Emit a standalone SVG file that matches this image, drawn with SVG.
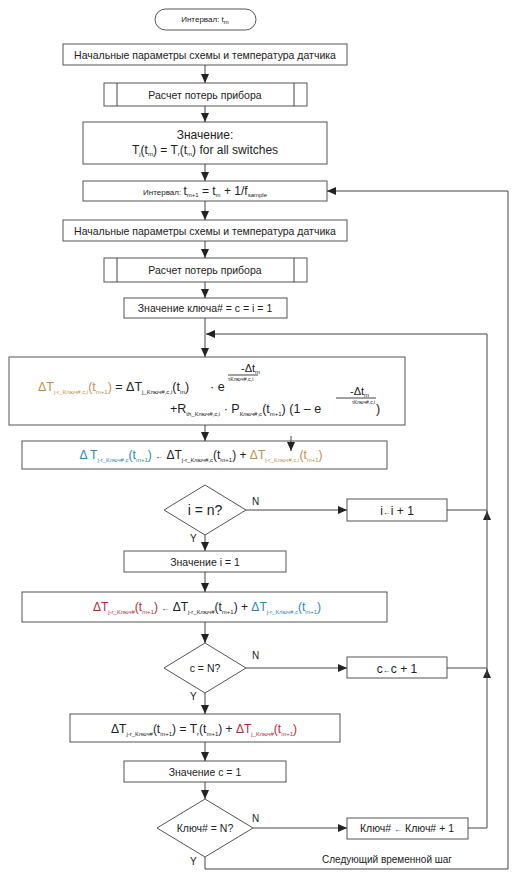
<svg xmlns="http://www.w3.org/2000/svg" width="514" height="880" viewBox="0 0 514 880">
<defs>
<marker id="ah" markerUnits="userSpaceOnUse" markerWidth="9" markerHeight="8" refX="9" refY="4" orient="auto"><path d="M0,0 L9,4 L0,8 z" fill="#222"/></marker>
<style>
.n{fill:#fff;stroke:#555;stroke-width:1}
.c{fill:none;stroke:#444;stroke-width:1}
text{font-family:"Liberation Sans",Arial,sans-serif;fill:#222}
.t{font-size:10.5px;text-anchor:middle}
.s{font-size:6px}
.g{fill:#c4914a}
.b{fill:#2a86bd}
.r{fill:#b8283a}
</style>
</defs>
<rect width="514" height="880" fill="#fff"/>
<g id="start">
<rect class="n" x="155" y="9" width="101" height="21" rx="10.5"/>
<text class="t" x="205" y="22" style="font-size:8px">Интервал: t<tspan class="s" dy="2">m</tspan></text>
</g>
<g id="init1">
<rect class="n" x="63" y="44" width="284" height="21"/>
<text class="t" x="205" y="58.5">Начальные параметры схемы и температура датчика</text>
</g>
<g id="loss1">
<rect class="n" x="104" y="83" width="203" height="23"/>
<path class="c" d="M117,83V106M294,83V106"/>
<text class="t" x="205" y="98.5">Расчет потерь прибора</text>
</g>
<g id="assign">
<rect class="n" x="83" y="122" width="244" height="42"/>
<text class="t" x="205" y="139" style="font-size:12px">Значение:</text>
<text class="t" x="205" y="154" style="font-size:12px">T<tspan class="s" dy="2">j</tspan><tspan dy="-2">(t</tspan><tspan class="s" dy="2">m</tspan><tspan dy="-2">) = T</tspan><tspan class="s" dy="2">r</tspan><tspan dy="-2">(t</tspan><tspan class="s" dy="2">m</tspan><tspan dy="-2">) for all switches</tspan></text>
</g>
<g id="interval">
<rect class="n" x="83" y="181" width="244" height="20"/>
<text class="t" x="205" y="195" style="font-size:12px"><tspan style="font-size:8px">Интервал: </tspan>t<tspan class="s" dy="2">m+1</tspan><tspan dy="-2"> = t</tspan><tspan class="s" dy="2">m</tspan><tspan dy="-2"> + 1/f</tspan><tspan class="s" dy="2">sample</tspan></text>
</g>
<g id="init2">
<rect class="n" x="63" y="220" width="284" height="21"/>
<text class="t" x="205" y="234.5">Начальные параметры схемы и температура датчика</text>
</g>
<g id="loss2">
<rect class="n" x="104" y="258" width="203" height="24"/>
<path class="c" d="M117,258V282M294,258V282"/>
<text class="t" x="205" y="274">Расчет потерь прибора</text>
</g>
<g id="keyinit">
<rect class="n" x="124" y="298" width="163" height="20"/>
<text class="t" x="205" y="312">Значение ключа# = c = i = 1</text>
</g>
<g id="formula">
<rect class="n" x="9" y="357" width="396" height="68"/>
<text x="38" y="391" style="font-size:12.5px"><tspan class="g">ΔT</tspan><tspan class="s g" dy="2.5">j-r_Ключ#,c,i</tspan><tspan class="g" dy="-2.5">(t</tspan><tspan class="s g" dy="2.5">m+1</tspan><tspan class="g" dy="-2.5">)</tspan> = ΔT<tspan class="s" dy="2.5">j_Ключ#,c,i</tspan><tspan dy="-2.5">(t</tspan><tspan class="s" dy="2.5">m</tspan><tspan dy="-2.5">)</tspan></text>
<text x="210" y="391" style="font-size:12.5px">· e</text>
<text x="228" y="381" style="font-size:5.5px">τКлюч#,c,i</text>
<path class="c" d="M228,375H258"/>
<text x="241" y="372" style="font-size:11px">-Δt<tspan class="s" dy="2">m</tspan></text>
<text x="170" y="413" style="font-size:12.5px">+R<tspan class="s" dy="2.5">th_Ключ#,c,i</tspan><tspan dy="-2.5"> · P</tspan><tspan class="s" dy="2.5">Ключ#,c</tspan><tspan dy="-2.5">(t</tspan><tspan class="s" dy="2.5">m+1</tspan><tspan dy="-2.5">)  (1 – e</tspan></text>
<text x="352" y="404" style="font-size:5px">τКлюч#,c,i</text>
<text x="376" y="413" style="font-size:12.5px">)</text>
<path class="c" d="M336,398H376"/>
<text x="350" y="395" style="font-size:11px">-Δt<tspan class="s" dy="2">m</tspan></text>
</g>
<g id="accum-c">
<rect class="n" x="22" y="441" width="365" height="28"/>
<text class="t" x="201" y="459" style="font-size:12px"><tspan class="b">Δ T</tspan><tspan class="s b" dy="2.5">j-r_Ключ#,c</tspan><tspan class="b" dy="-2.5">(t</tspan><tspan class="s b" dy="2.5">m+1</tspan><tspan class="b" dy="-2.5">)</tspan> <tspan style="font-size:8px">←</tspan> ΔT<tspan class="s" dy="2.5">j-r_Ключ#,c</tspan><tspan dy="-2.5">(t</tspan><tspan class="s" dy="2.5">m+1</tspan><tspan dy="-2.5">) +  </tspan><tspan class="g">ΔT</tspan><tspan class="s g" dy="2.5">j-r_Ключ#,c,i</tspan><tspan class="g" dy="-2.5">(t</tspan><tspan class="s g" dy="2.5">m+1</tspan><tspan class="g" dy="-2.5">)</tspan></text>
</g>
<g id="dec-i">
<polygon class="n" points="205,485 246,510 205,535 164,510"/>
<text class="t" x="205" y="515" style="font-size:14px">i = n?</text>
</g>
<g id="inc-i">
<rect class="n" x="347" y="499" width="100" height="22"/>
<text class="t" x="397" y="515" style="font-size:12px">i<tspan style="font-size:8px">←</tspan>i + 1</text>
</g>
<g id="reset-i">
<rect class="n" x="124" y="551" width="162" height="21"/>
<text class="t" x="205" y="565.5">Значение i = 1</text>
</g>
<g id="accum-key">
<rect class="n" x="22" y="592" width="365" height="30"/>
<text class="t" x="207" y="611" style="font-size:12px"><tspan class="r">ΔT</tspan><tspan class="s r" dy="2.5">j-r_Ключ#</tspan><tspan class="r" dy="-2.5">(t</tspan><tspan class="s r" dy="2.5">m+1</tspan><tspan class="r" dy="-2.5">)</tspan> <tspan style="font-size:8px">←</tspan> ΔT<tspan class="s" dy="2.5">j-r_Ключ#</tspan><tspan dy="-2.5">(t</tspan><tspan class="s" dy="2.5">m+1</tspan><tspan dy="-2.5">) +  </tspan><tspan class="b">ΔT</tspan><tspan class="s b" dy="2.5">j-r_Ключ#,c</tspan><tspan class="b" dy="-2.5">(t</tspan><tspan class="s b" dy="2.5">m+1</tspan><tspan class="b" dy="-2.5">)</tspan></text>
</g>
<g id="dec-c">
<polygon class="n" points="205,643 246,668 205,693 164,668"/>
<text class="t" x="205" y="672">c = N?</text>
</g>
<g id="inc-c">
<rect class="n" x="347" y="657" width="100" height="21"/>
<text class="t" x="397" y="672.5" style="font-size:12px">c<tspan style="font-size:8px">←</tspan>c + 1</text>
</g>
<g id="total">
<rect class="n" x="70" y="714" width="270" height="28"/>
<text class="t" x="204" y="733" style="font-size:12px">ΔT<tspan class="s" dy="2.5">j-r_Ключ#</tspan><tspan dy="-2.5">(t</tspan><tspan class="s" dy="2.5">m+1</tspan><tspan dy="-2.5">) = T</tspan><tspan class="s" dy="2.5">r</tspan><tspan dy="-2.5">(t</tspan><tspan class="s" dy="2.5">m+1</tspan><tspan dy="-2.5">) +  </tspan><tspan class="r">ΔT</tspan><tspan class="s r" dy="2.5">j_Ключ#</tspan><tspan class="r" dy="-2.5">(t</tspan><tspan class="s r" dy="2.5">m+1</tspan><tspan class="r" dy="-2.5">)</tspan></text>
</g>
<g id="reset-c">
<rect class="n" x="124" y="761" width="162" height="21"/>
<text class="t" x="205" y="775.5">Значение c = 1</text>
</g>
<g id="dec-key">
<polygon class="n" points="205,799 253,828 205,857 157,828"/>
<text class="t" x="205" y="832">Ключ# = N?</text>
</g>
<g id="inc-key">
<rect class="n" x="347" y="818" width="121" height="21"/>
<text class="t" x="407" y="832">Ключ# <tspan style="font-size:8px">←</tspan> Ключ# + 1</text>
</g>
<g id="connectors">
<path class="c" d="M205,65V83" marker-end="url(#ah)"/>
<path class="c" d="M205,106V122" marker-end="url(#ah)"/>
<path class="c" d="M205,164V181" marker-end="url(#ah)"/>
<path class="c" d="M205,201V220" marker-end="url(#ah)"/>
<path class="c" d="M205,241V258" marker-end="url(#ah)"/>
<path class="c" d="M205,282V298" marker-end="url(#ah)"/>
<path class="c" d="M205,318V357" marker-end="url(#ah)"/>
<path class="c" d="M487,334H206" marker-end="url(#ah)"/>
<path class="c" d="M205,425V441" marker-end="url(#ah)"/>
<path class="c" d="M291,436V451" marker-end="url(#ah)"/>
<path class="c" d="M246,510H347" marker-end="url(#ah)"/>
<path class="c" d="M447,510H487"/>
<path class="c" d="M487,519V511" marker-end="url(#ah)"/>
<path class="c" d="M205,535V551" marker-end="url(#ah)"/>
<path class="c" d="M205,572V592" marker-end="url(#ah)"/>
<path class="c" d="M205,622V643" marker-end="url(#ah)"/>
<path class="c" d="M246,668H347" marker-end="url(#ah)"/>
<path class="c" d="M447,668H487"/>
<path class="c" d="M487,677V669" marker-end="url(#ah)"/>
<path class="c" d="M205,693V714" marker-end="url(#ah)"/>
<path class="c" d="M205,742V761" marker-end="url(#ah)"/>
<path class="c" d="M205,782V799" marker-end="url(#ah)"/>
<path class="c" d="M253,828H347" marker-end="url(#ah)"/>
<path class="c" d="M468,828H487V334"/>
<path class="c" d="M205,857V869H508V191H327" marker-end="url(#ah)"/>
<text x="252" y="505" style="font-size:10px">N</text>
<text x="190" y="542" style="font-size:10px">Y</text>
<text x="252" y="659" style="font-size:10px">N</text>
<text x="190" y="700" style="font-size:10px">Y</text>
<text x="252" y="822" style="font-size:10px">N</text>
<text x="190" y="865" style="font-size:10px">Y</text>
<text x="322" y="863" style="font-size:10px">Следующий временной шаг</text>
</g>
</svg>
